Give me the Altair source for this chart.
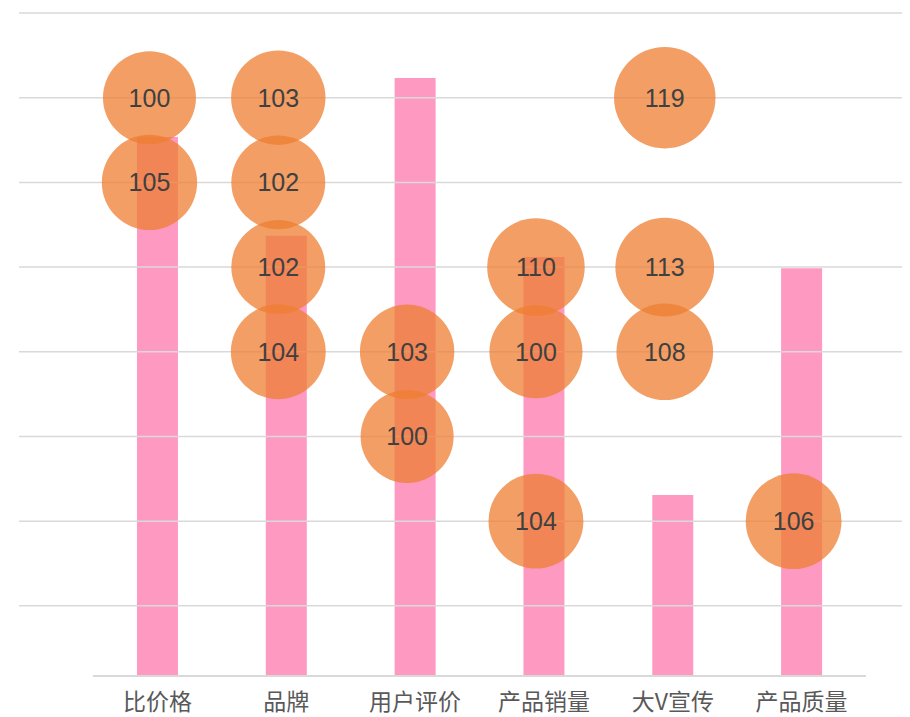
import altair as alt
import pandas as pd

# ---- data ----
categories = ["比价格", "品牌", "用户评价", "产品销量", "大V宣传", "产品质量"]
bar_values = [81.3, 66.4, 90.2, 63.2, 27.3, 61.5]

bubble_category = ["比价格", "比价格",
                   "品牌", "品牌", "品牌", "品牌",
                   "用户评价", "用户评价",
                   "产品销量", "产品销量", "产品销量",
                   "大V宣传", "大V宣传", "大V宣传",
                   "产品质量"]
bubble_level = [1, 2,
                1, 2, 3, 4,
                4, 5,
                3, 4, 6,
                1, 3, 4,
                6]
bubble_value = [100, 105,
                103, 102, 102, 104,
                103, 100,
                110, 100, 104,
                119, 113, 108,
                106]

grid_levels = [0, 1, 2, 3, 4, 5, 6, 7]

bars_df = pd.DataFrame({"category": categories, "value": bar_values})
bub_df = pd.DataFrame({"category": bubble_category, "level": bubble_level, "value": bubble_value})
grid_df = pd.DataFrame({"level": grid_levels})

W, H = 883, 663

x_scale = alt.Scale(paddingInner=0, paddingOuter=0.427, align=0.673)
level_scale = alt.Scale(domain=[0, 7.828], reverse=True, nice=False, zero=False)

x_axis = alt.Axis(title=None, domain=False, ticks=False, tickSize=0, grid=False,
                  labelAngle=0, labelFontSize=23, labelColor="#595959",
                  labelFont="Noto Sans CJK SC", labelPadding=15, labelBaseline="top")

X = alt.X("category:N", sort=categories, scale=x_scale, axis=x_axis)

bars = alt.Chart(bars_df).mark_bar(size=41, color="#FE9AC2").encode(
    x=X,
    y=alt.Y("value:Q", scale=alt.Scale(domain=[0, 100], nice=False), axis=None),
)

grid = alt.Chart(grid_df).mark_rule(color="#D9D9D9", strokeWidth=1.5).encode(
    y=alt.Y("level:Q", scale=level_scale, axis=None),
)

baseline = alt.Chart(grid_df).mark_rule(color="#D9D9D9", strokeWidth=1.5).encode(
    x=alt.value(74), x2=alt.value(847), y=alt.value(H),
)

bubbles = alt.Chart(bub_df).mark_circle(color="#ED7D31", opacity=0.75, xOffset=-8).encode(
    x=X,
    y=alt.Y("level:Q", scale=level_scale, axis=None),
    size=alt.Size("value:Q",
                  scale=alt.Scale(type="linear", domain=[0, 100], range=[0, 8650],
                                  nice=False, zero=True, clamp=False),
                  legend=None),
)

labels = alt.Chart(bub_df).mark_text(font="Liberation Sans", fontSize=25, color="#404040",
                                     baseline="alphabetic", dy=9, xOffset=-8).encode(
    x=X,
    y=alt.Y("level:Q", scale=level_scale, axis=None),
    text=alt.Text("value:Q"),
)

chart = alt.layer(bars, grid, baseline, bubbles, labels).resolve_scale(
    y="independent"
).properties(
    width=W, height=H,
    background="white",
    autosize=alt.AutoSizeParams(type="none"),
    padding={"left": 11, "top": 5, "right": 0, "bottom": 40},
).configure_view(stroke="transparent", strokeWidth=0).configure_axis(domain=False)

chart.save("out.html", embed_options={"renderer": "svg", "actions": False})
